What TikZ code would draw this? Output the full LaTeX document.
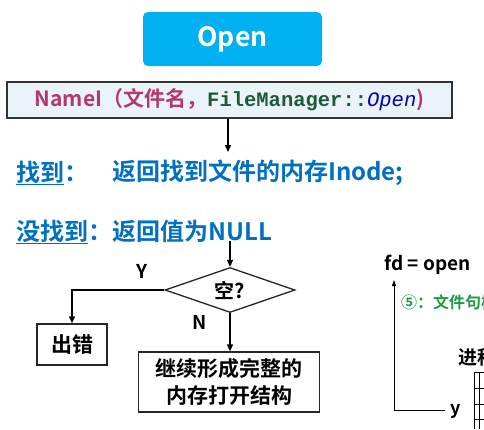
\documentclass[tikz,border=0pt]{standalone}
\usepackage{fontspec}
\setmainfont{Noto Sans CJK SC}[BoldFont={Noto Sans CJK SC Bold}]
\newfontfamily\cjk{Noto Sans CJK SC Bold}
\newfontfamily\monof{Liberation Mono}[BoldFont={Liberation Mono Bold},ItalicFont={Liberation Mono Italic}]
\usetikzlibrary{shapes.geometric,arrows.meta}
\definecolor{btnblue}{HTML}{00B0F0}
\definecolor{txtblue}{HTML}{0070C0}
\definecolor{mag}{HTML}{B5386A}
\definecolor{dgreen}{HTML}{1E5A3A}
\definecolor{lgreen}{HTML}{1F9A45}
\definecolor{boxfill}{HTML}{EAF3F7}
\tikzset{
  flowbox/.style={draw=black!85, line width=1.3pt, fill=white, align=center, font=\cjk\fontsize{21}{27}\selectfont, inner sep=0pt},
  conn/.style={line width=1.3pt, draw=black},
  arr/.style={conn, -{Triangle[length=7pt,width=6pt]}},
  lbl/.style={font=\cjk\fontsize{19}{22}\selectfont, inner sep=0pt},
  bluetxt/.style={font=\cjk\fontsize{24}{28}\selectfont, text=txtblue, inner sep=0pt, anchor=west}
}
\begin{document}
\begin{tikzpicture}[x=1pt,y=-1pt]
\useasboundingbox (0,0) rectangle (484,429);
\clip (0,0) rectangle (484,429);
% Open button
\node[fill=btnblue, rounded corners=5pt, minimum width=179pt, minimum height=54pt, inner sep=0pt,
      text=white, font=\cjk\fontsize{26.5}{30}\selectfont] (open) at (232.5,39) {Open};
% NameI box
\node[draw=black!80, line width=1.3pt, fill=boxfill, minimum width=445pt, minimum height=36pt, inner sep=0pt] (name) at (229.5,100)
  {\cjk\fontsize{21}{24}\selectfont\color{mag}NameI（文件名，\monof\bfseries\fontsize{20.5}{24}\selectfont\color{dgreen}FileManager::\color{blue!75!black}\mdseries\itshape Open\upshape\cjk\fontsize{21}{24}\selectfont\color{mag})};
\coordinate (a1) at (228,152);
\draw[arr] (name.south -| a1) -- (a1);
% found / not found
\node[bluetxt] (f1) at (16,173) {\underline{找到}：};
\node[bluetxt] (f2) at (112,173) {返回找到文件的内存Inode;};
\node[bluetxt] (nf1) at (16,232) {\underline{没找到}：返回值为NULL};
% diamond
\node[draw=black!85, line width=1.3pt, diamond, aspect=2.9, minimum width=130pt, minimum height=45pt, inner sep=0pt,
      font=\cjk\fontsize{20}{22}\selectfont] (dia) at (230,290) {空?};
\coordinate (top) at (230,241);
\draw[arr] (top) -- (dia.north);
% error box
\node[flowbox, minimum width=70pt, minimum height=41pt] (err) at (72,344.5) {出错};
\draw[arr] (dia.west) -| (err.north);
\node[lbl] (ylab) at (142,271) {Y};
% continue box
\node[flowbox, minimum width=181pt, minimum height=60pt] (cont) at (229,382) {继续形成完整的\\内存打开结构};
\draw[arr] (dia.south) -- (cont.north -| dia.south);
\node[lbl] (nlab) at (200,322) {N};
% right partial
\node[anchor=west, inner sep=0pt, font=\cjk\fontsize{19}{22}\selectfont] (fd) at (384,265) {fd = open};
\node[anchor=west, inner sep=0pt, text=lgreen, font=\cjk\fontsize{16}{20}\selectfont] (five) at (401,302) {⑤：文件句柄};
\node[anchor=west, inner sep=0pt, font=\cjk\fontsize{19}{22}\selectfont] (proc) at (458,357) {进程};
\node[anchor=west, inner sep=0pt, font=\cjk\fontsize{18}{22}\selectfont] (ylab2) at (450,411) {y};
\coordinate (ybot) at (394,410);
\coordinate (ytop) at (394,280);
\coordinate (yend) at (445,410);
\draw[conn, line width=1pt, -{Triangle[length=6pt,width=4pt]}] (yend) -- (ybot) -- (ytop);
% table fragment
\draw[line width=1pt] (474,372) -- (474,429) (479,372) -- (479,429);
\foreach \yy in {372,388,404,419} \draw[line width=1pt] (474,\yy) -- (490,\yy);
\end{tikzpicture}
\end{document}
